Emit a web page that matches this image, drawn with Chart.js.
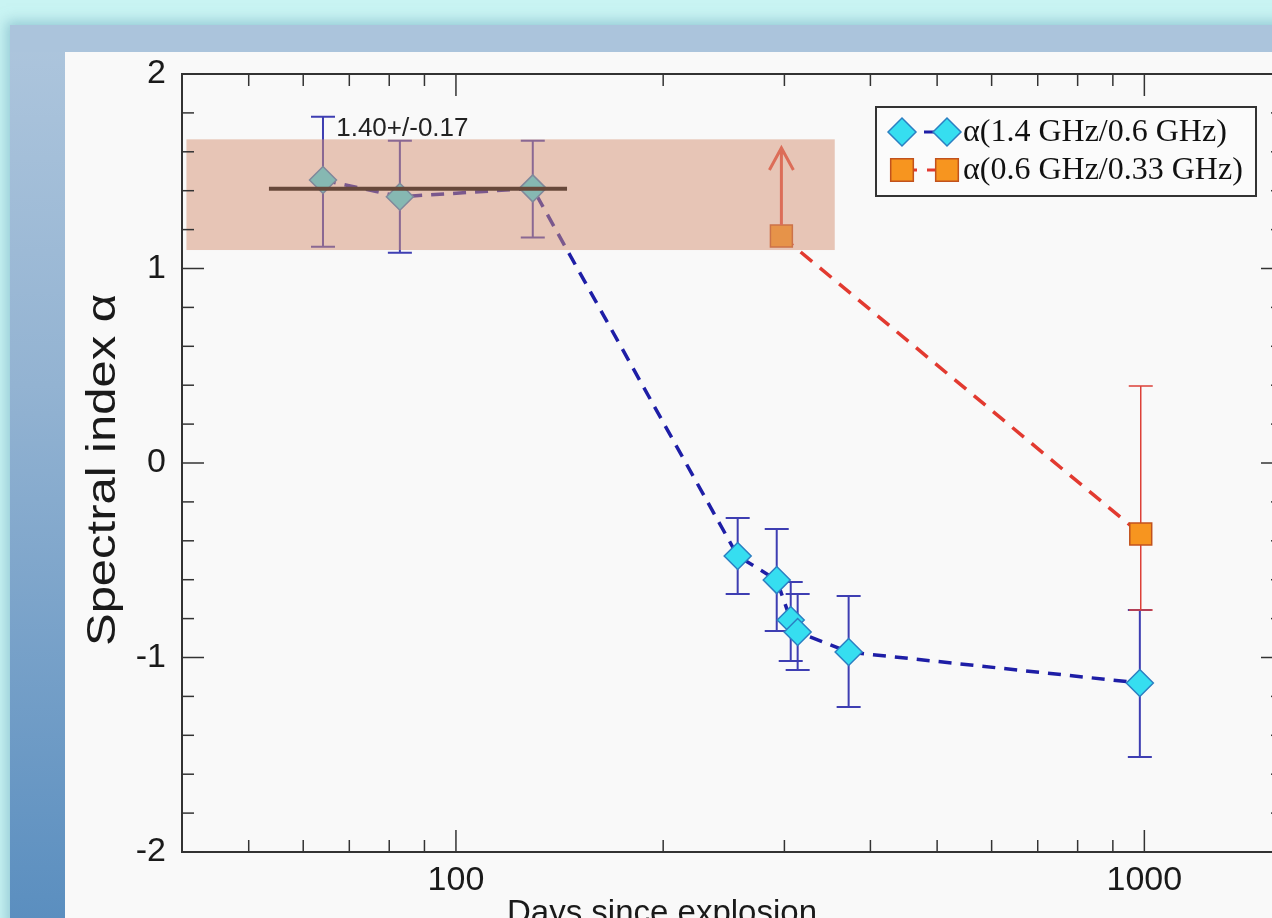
<!DOCTYPE html>
<html>
<head>
<meta charset="utf-8">
<script src="https://cdn.jsdelivr.net/npm/chart.js@4.4.0/dist/chart.umd.min.js"></script>
<style>
  html, body { margin: 0; padding: 0; width: 1272px; height: 918px; overflow: hidden; background: #c9f4f3; }
  #frame { position: absolute; left: 10px; top: 25px; width: 1280px; height: 900px;
    background: linear-gradient(to bottom, #aec6dd 0%, #93b3d2 40%, #5a8ebf 100%);
    box-shadow: 0 0 12px 4px rgba(110, 170, 190, 0.55); }
  #topband { position: absolute; left: 10px; top: 25px; width: 1280px; height: 27px; background: #abc4dc; }
  #panel { position: absolute; left: 65px; top: 52px; width: 1230px; height: 880px; background: #f9f9f9; }
  #chart { position: absolute; left: 0; top: 0; }
</style>
</head>
<body>
<div id="frame"></div>
<div id="topband"></div>
<div id="panel"></div>
<canvas id="chart" width="1300" height="950" style="width:1300px;height:950px"></canvas>
<script>
// alpha(1.4 GHz / 0.6 GHz)
var blueDays = [64.1, 82.9, 129.3, 256.6, 292.4, 306.4, 313.6, 371.9, 985];
var blueAlpha = [1.455, 1.369, 1.412, -0.478, -0.602, -0.807, -0.869, -0.972, -1.131];
var blueErrLow = [1.112, 1.081, 1.160, -0.674, -0.864, -1.018, -1.064, -1.254, -1.512];
var blueErrHigh = [1.780, 1.657, 1.657, -0.283, -0.339, -0.612, -0.674, -0.684, -0.756];

// alpha(0.6 GHz / 0.33 GHz), first point is a lower limit
var orangeDays = [297, 988];
var orangeAlpha = [1.167, -0.365];
var orangeErrLow = [null, -0.756];
var orangeErrHigh = [null, 0.396];
var limitArrowTop = 1.62;

// shaded band and mean line of the early points
var bandDays = [40.6, 355];
var bandAlpha = [1.095, 1.664];
var meanDays = [53.5, 145];
var meanAlpha = 1.41;
var meanLabel = '1.40+/-0.17';
var meanLabelAt = [67, 1.72];

var xMajorTicks = [100, 1000];
var xMinorTicks = [50, 60, 70, 80, 90, 200, 300, 400, 500, 600, 700, 800, 900];
var yMajorTicks = [-2, -1, 0, 1, 2];
var yMinorTicks = [-1.8, -1.6, -1.4, -1.2, -0.8, -0.6, -0.4, -0.2, 0.2, 0.4, 0.6, 0.8, 1.2, 1.4, 1.6, 1.8];

var blueData = blueDays.map(function(d, i) { return { x: d, y: blueAlpha[i] }; });
var orangeData = orangeDays.map(function(d, i) { return { x: d, y: orangeAlpha[i] }; });

function markerPath(ctx, style, x, y, r) {
  ctx.beginPath();
  if (style === 'rectRot') {
    ctx.moveTo(x - r, y); ctx.lineTo(x, y - r); ctx.lineTo(x + r, y); ctx.lineTo(x, y + r);
  } else {
    var s = r * Math.SQRT1_2;
    ctx.rect(x - s, y - s, 2 * s, 2 * s);
  }
  ctx.closePath();
}

// error bars under the markers
var errorBars = {
  id: 'errorBars',
  beforeDatasetsDraw: function(chart) {
    var ctx = chart.ctx, xs = chart.scales.x, ys = chart.scales.y;
    ctx.save();
    chart.data.datasets.forEach(function(ds) {
      if (!ds.errLow) return;
      ctx.strokeStyle = ds.errColor;
      ctx.lineWidth = ds.errWidth;
      ds.data.forEach(function(p, i) {
        if (ds.errLow[i] == null) return;
        var px = xs.getPixelForValue(p.x);
        var lo = ys.getPixelForValue(ds.errLow[i]);
        var hi = ys.getPixelForValue(ds.errHigh[i]);
        ctx.beginPath();
        ctx.moveTo(px, lo); ctx.lineTo(px, hi);
        ctx.moveTo(px - 12, lo); ctx.lineTo(px + 12, lo);
        ctx.moveTo(px - 12, hi); ctx.lineTo(px + 12, hi);
        ctx.stroke();
      });
    });
    ctx.restore();
  }
};

// lower limit arrow, shaded band, mean line and its label
var overlays = {
  id: 'overlays',
  afterDatasetsDraw: function(chart) {
    var ctx = chart.ctx, xs = chart.scales.x, ys = chart.scales.y;
    ctx.save();
    var ax = xs.getPixelForValue(orangeDays[0]);
    var ay0 = ys.getPixelForValue(orangeAlpha[0]) - 11;
    var ay1 = ys.getPixelForValue(limitArrowTop);
    ctx.strokeStyle = '#e2483c';
    ctx.lineWidth = 3;
    ctx.beginPath();
    ctx.moveTo(ax, ay0); ctx.lineTo(ax, ay1);
    ctx.moveTo(ax - 12, ay1 + 22); ctx.lineTo(ax, ay1); ctx.lineTo(ax + 12, ay1 + 22);
    ctx.stroke();

    var bx0 = xs.getPixelForValue(bandDays[0]), bx1 = xs.getPixelForValue(bandDays[1]);
    var by0 = ys.getPixelForValue(bandAlpha[1]), by1 = ys.getPixelForValue(bandAlpha[0]);
    ctx.fillStyle = 'rgba(214, 146, 116, 0.5)';
    ctx.fillRect(bx0, by0, bx1 - bx0, by1 - by0);

    var my = ys.getPixelForValue(meanAlpha);
    ctx.strokeStyle = '#67483a';
    ctx.lineWidth = 4;
    ctx.beginPath();
    ctx.moveTo(xs.getPixelForValue(meanDays[0]), my);
    ctx.lineTo(xs.getPixelForValue(meanDays[1]), my);
    ctx.stroke();

    ctx.fillStyle = '#222';
    ctx.font = '26px "Liberation Sans", Arial, sans-serif';
    ctx.textBaseline = 'middle';
    ctx.textAlign = 'left';
    ctx.fillText(meanLabel, xs.getPixelForValue(meanLabelAt[0]), ys.getPixelForValue(meanLabelAt[1]));
    ctx.restore();
  }
};

// boxed axes with inward ticks, axis titles, legend box
var frameAndLegend = {
  id: 'frameAndLegend',
  afterDraw: function(chart) {
    var ctx = chart.ctx, a = chart.chartArea, xs = chart.scales.x, ys = chart.scales.y;
    ctx.save();
    ctx.strokeStyle = '#333';
    ctx.lineWidth = 2;
    ctx.strokeRect(a.left, a.top, a.right - a.left, a.bottom - a.top);
    ctx.lineWidth = 1.5;
    function seg(x1, y1, x2, y2) { ctx.beginPath(); ctx.moveTo(x1, y1); ctx.lineTo(x2, y2); ctx.stroke(); }
    xMajorTicks.forEach(function(v) { var p = xs.getPixelForValue(v); seg(p, a.bottom, p, a.bottom - 22); seg(p, a.top, p, a.top + 22); });
    xMinorTicks.forEach(function(v) { var p = xs.getPixelForValue(v); seg(p, a.bottom, p, a.bottom - 12); seg(p, a.top, p, a.top + 12); });
    yMajorTicks.forEach(function(v) { var p = ys.getPixelForValue(v); seg(a.left, p, a.left + 22, p); seg(a.right, p, a.right - 22, p); });
    yMinorTicks.forEach(function(v) { var p = ys.getPixelForValue(v); seg(a.left, p, a.left + 12, p); seg(a.right, p, a.right - 12, p); });

    ctx.fillStyle = '#1a1a1a';
    ctx.font = '33px "Liberation Sans", Arial, sans-serif';
    ctx.textAlign = 'center';
    ctx.textBaseline = 'middle';
    ctx.fillText('Days since explosion', 662, 914);

    // y title, a bit stretched along its length like the original
    ctx.save();
    ctx.font = '40px "Liberation Sans", Arial, sans-serif';
    var tw = ctx.measureText('Spectral index α').width;
    ctx.translate(104, 470);
    ctx.rotate(-Math.PI / 2);
    ctx.scale(352 / tw, 1);
    ctx.fillText('Spectral index α', 0, 0);
    ctx.restore();

    // legend
    var lx = 876, ly = 107, lw = 380, lh = 89;
    ctx.fillStyle = '#fbfbfb';
    ctx.fillRect(lx, ly, lw, lh);
    ctx.strokeStyle = '#333';
    ctx.lineWidth = 2;
    ctx.strokeRect(lx, ly, lw, lh);
    chart.data.datasets.forEach(function(ds, i) {
      var cy = ly + 25 + i * 38;
      var m1 = lx + 26, m2 = lx + 71;
      ctx.strokeStyle = ds.borderColor;
      ctx.lineWidth = 3;
      ctx.setLineDash(ds.borderDash);
      ctx.beginPath(); ctx.moveTo(m1, cy); ctx.lineTo(m2, cy); ctx.stroke();
      ctx.setLineDash([]);
      [m1, m2].forEach(function(mx) {
        markerPath(ctx, ds.pointStyle, mx, cy, ds.pointStyle === 'rectRot' ? 14 : 16);
        ctx.fillStyle = ds.pointBackgroundColor;
        ctx.fill();
        ctx.strokeStyle = ds.pointBorderColor;
        ctx.lineWidth = 1.5;
        ctx.stroke();
      });
      ctx.fillStyle = '#111';
      ctx.font = '32px "Liberation Serif", "Times New Roman", serif';
      ctx.textAlign = 'left';
      ctx.textBaseline = 'middle';
      ctx.fillText(ds.label, lx + 87, cy + 1);
    });
    ctx.restore();
  }
};

new Chart(document.getElementById('chart'), {
  type: 'scatter',
  data: {
    datasets: [{
      label: 'α(1.4 GHz/0.6 GHz)',
      data: blueData,
      showLine: true,
      borderColor: '#1e1ea6',
      borderWidth: 3.5,
      borderDash: [13, 9],
      pointStyle: 'rectRot',
      pointRadius: 13.5,
      pointHoverRadius: 13.5,
      pointBackgroundColor: '#36def0',
      pointBorderColor: '#2b7fc2',
      pointBorderWidth: 1.5,
      errLow: blueErrLow,
      errHigh: blueErrHigh,
      errColor: '#3e3eb2',
      errWidth: 2
    }, {
      label: 'α(0.6 GHz/0.33 GHz)',
      data: orangeData,
      showLine: true,
      borderColor: '#e23a30',
      borderWidth: 3.5,
      borderDash: [15, 10],
      pointStyle: 'rect',
      pointRadius: 15.5,
      pointHoverRadius: 15.5,
      pointBackgroundColor: '#f7951f',
      pointBorderColor: '#c2521c',
      pointBorderWidth: 1.5,
      errLow: orangeErrLow,
      errHigh: orangeErrHigh,
      errColor: '#dc4038',
      errWidth: 1.5
    }]
  },
  options: {
    responsive: false,
    animation: false,
    events: [],
    layout: { padding: { left: 0, top: 74, right: 13, bottom: 0 } },
    plugins: { legend: { display: false }, tooltip: { enabled: false } },
    scales: {
      x: {
        type: 'logarithmic',
        min: 40,
        max: 1590,
        grid: { display: false },
        border: { display: false },
        afterBuildTicks: function(scale) { scale.ticks = xMajorTicks.map(function(v) { return { value: v }; }); },
        afterFit: function(scale) { scale.height = 98; },
        ticks: {
          autoSkip: false,
          maxRotation: 0,
          padding: 0,
          color: '#1a1a1a',
          font: { family: '"Liberation Sans", Arial, sans-serif', size: 34 },
          callback: function(v) { return String(v); }
        }
      },
      y: {
        min: -2,
        max: 2,
        grid: { display: false },
        border: { display: false },
        afterFit: function(scale) { scale.width = 182; },
        ticks: {
          stepSize: 1,
          padding: 8,
          color: '#1a1a1a',
          font: { family: '"Liberation Sans", Arial, sans-serif', size: 34 }
        }
      }
    }
  },
  plugins: [errorBars, overlays, frameAndLegend]
});
</script>
</body>
</html>
